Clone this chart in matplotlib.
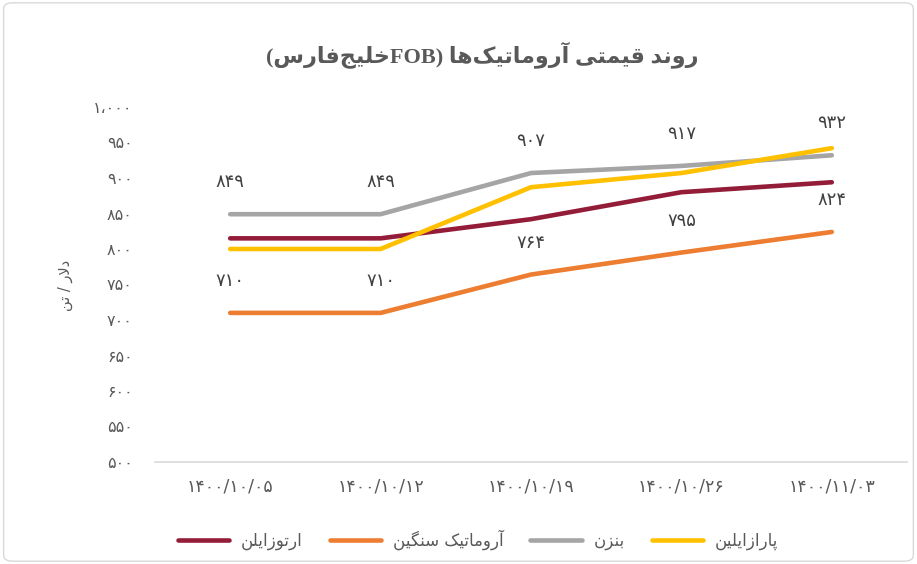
import re
import numpy as np
import matplotlib
matplotlib.use('Agg')
from matplotlib import pyplot as plt
from matplotlib.patches import FancyBboxPatch

## chart data
dates = ['1400/10/05', '1400/10/12', '1400/10/19', '1400/10/26', '1400/11/03']
names = ['ارتوزایلن', 'آروماتیک سنگین', 'بنزن', 'پارازایلین']
orthoxylene = [815, 815, 842, 880, 894]
heavy_aromatics = [710, 710, 764, 795, 824]
benzene = [849, 849, 907, 917, 932]
paraxylene = [800, 800, 887, 907, 942]
colors = ['#931c38', '#ed7d31', '#a5a5a5', '#ffc000']
title = 'روند قیمتی آروماتیک‌ها (FOBخلیج‌فارس)'
ylabel = 'دلار / تن'

## minimal persian shaping (matplotlib has no bidi / joining support)
FORMS = {
    'ا': ('\uFE8D', '\uFE8E', None, None), 'آ': ('\uFE81', '\uFE82', None, None),
    'د': ('\uFEA9', '\uFEAA', None, None), 'ر': ('\uFEAD', '\uFEAE', None, None),
    'ز': ('\uFEAF', '\uFEB0', None, None), 'و': ('\uFEED', '\uFEEE', None, None),
    'ب': ('\uFE8F', '\uFE90', '\uFE91', '\uFE92'), 'پ': ('\uFB56', '\uFB57', '\uFB58', '\uFB59'),
    'ت': ('\uFE95', '\uFE96', '\uFE97', '\uFE98'), 'ج': ('\uFE9D', '\uFE9E', '\uFE9F', '\uFEA0'),
    'خ': ('\uFEA5', '\uFEA6', '\uFEA7', '\uFEA8'), 'س': ('\uFEB1', '\uFEB2', '\uFEB3', '\uFEB4'),
    'ف': ('\uFED1', '\uFED2', '\uFED3', '\uFED4'), 'ق': ('\uFED5', '\uFED6', '\uFED7', '\uFED8'),
    'ک': ('\uFB8E', '\uFB8F', '\uFB90', '\uFB91'), 'گ': ('\uFB92', '\uFB93', '\uFB94', '\uFB95'),
    'ل': ('\uFEDD', '\uFEDE', '\uFEDF', '\uFEE0'), 'م': ('\uFEE1', '\uFEE2', '\uFEE3', '\uFEE4'),
    'ن': ('\uFEE5', '\uFEE6', '\uFEE7', '\uFEE8'), 'ه': ('\uFEE9', '\uFEEA', '\uFEEB', '\uFEEC'),
    'ی': ('\uFBFC', '\uFBFD', '\uFBFE', '\uFBFF'),
}
LAM_ALEF = {'ا': ('\uFEFB', '\uFEFC'), 'آ': ('\uFEF5', '\uFEF6')}


def dual(c):
    return c in FORMS and FORMS[c][2] is not None


def shape(s):
    out = []
    i = 0
    while i < len(s):
        c = s[i]
        if c not in FORMS:
            if c != '\u200c':
                out.append(c)
            i += 1
            continue
        prev_join = i > 0 and dual(s[i - 1])
        if c == 'ل' and i + 1 < len(s) and s[i + 1] in LAM_ALEF:
            out.append(LAM_ALEF[s[i + 1]][1 if prev_join else 0])
            i += 2
            continue
        next_join = dual(c) and i + 1 < len(s) and s[i + 1] in FORMS
        iso, fin, ini, med = FORMS[c]
        if prev_join and next_join:
            out.append(med)
        elif prev_join:
            out.append(fin)
        elif next_join:
            out.append(ini)
        else:
            out.append(iso)
        i += 1
    return ''.join(out)


def rtl(s):
    s = shape(s)
    runs = re.findall(r'[A-Za-z0-9\u06F0-\u06F9]+|[^A-Za-z0-9\u06F0-\u06F9]+', s)
    mirror = str.maketrans('()', ')(')
    vis = []
    for r in reversed(runs):
        if re.match(r'[A-Za-z0-9\u06F0-\u06F9]', r):
            vis.append(r)
        else:
            vis.append(r[::-1].translate(mirror))
    return ''.join(vis)


fa_digits = str.maketrans('0123456789,', '۰۱۲۳۴۵۶۷۸۹\u060C')


def fa(x):
    return str(x).translate(fa_digits)


plt.rcParams['font.family'] = ['DejaVu Sans']

fig = plt.figure(figsize=(9.17, 5.64), dpi=100)
fig.patches.append(FancyBboxPatch((0.004, 0.005), 0.992, 0.99, boxstyle='round,pad=0,rounding_size=0.01',
                                  transform=fig.transFigure, facecolor='white', edgecolor='#d9d9d9',
                                  linewidth=1, zorder=-1))

ax = fig.add_axes([155 / 917, 1 - 462 / 564, (907 - 155) / 917, (462 - 107) / 564])
ax.set_facecolor('none')
x = np.arange(len(dates))

series = [orthoxylene, heavy_aromatics, benzene, paraxylene]
for vals, name, col in zip(series, names, colors):
    ax.plot(x, vals, color=col, linewidth=3.3, label=rtl(name), solid_capstyle='round')

## data labels only for benzene and heavy aromatics
for vals in (heavy_aromatics, benzene):
    for xi, v in zip(x, vals):
        ax.annotate(fa(v), (xi, v), xytext=(0, 23), textcoords='offset points',
                    ha='center', va='center', fontsize=13, color='#404040')

ax.set_xlim(-0.5, len(dates) - 0.5)
ax.set_ylim(500, 1000)
ax.set_xticks(x)
ax.set_xticklabels([fa(d) for d in dates])
yt = np.arange(500, 1001, 50)
ax.set_yticks(yt)
ax.set_yticklabels([fa(f'{v:,}') for v in yt])
ax.tick_params(axis='both', length=0, colors='#595959')
ax.tick_params(axis='y', pad=16, labelsize=11.5)
ax.tick_params(axis='x', pad=11, labelsize=12.5)
for sp in ['top', 'right', 'left']:
    ax.spines[sp].set_visible(False)
ax.spines['bottom'].set_color('#d9d9d9')
ax.spines['bottom'].set_linewidth(1.2)

fig.text(65 / 917, 1 - 285 / 564, rtl(ylabel), rotation=90, ha='center', va='center',
         fontsize=10.5, color='#595959')
fig.text(482 / 917, 1 - 55 / 564, rtl(title), ha='center', va='center',
         fontsize=16, fontweight='bold', color='#595959',
         family=['Liberation Serif', 'DejaVu Sans'])

fig.legend(loc='center', bbox_to_anchor=(478 / 917, 1 - 540 / 564), ncol=4, frameon=False,
           fontsize=12, handlelength=3.1, columnspacing=1.6, handletextpad=0.7,
           labelcolor='#595959')

fig.savefig('out.png', dpi=100)
